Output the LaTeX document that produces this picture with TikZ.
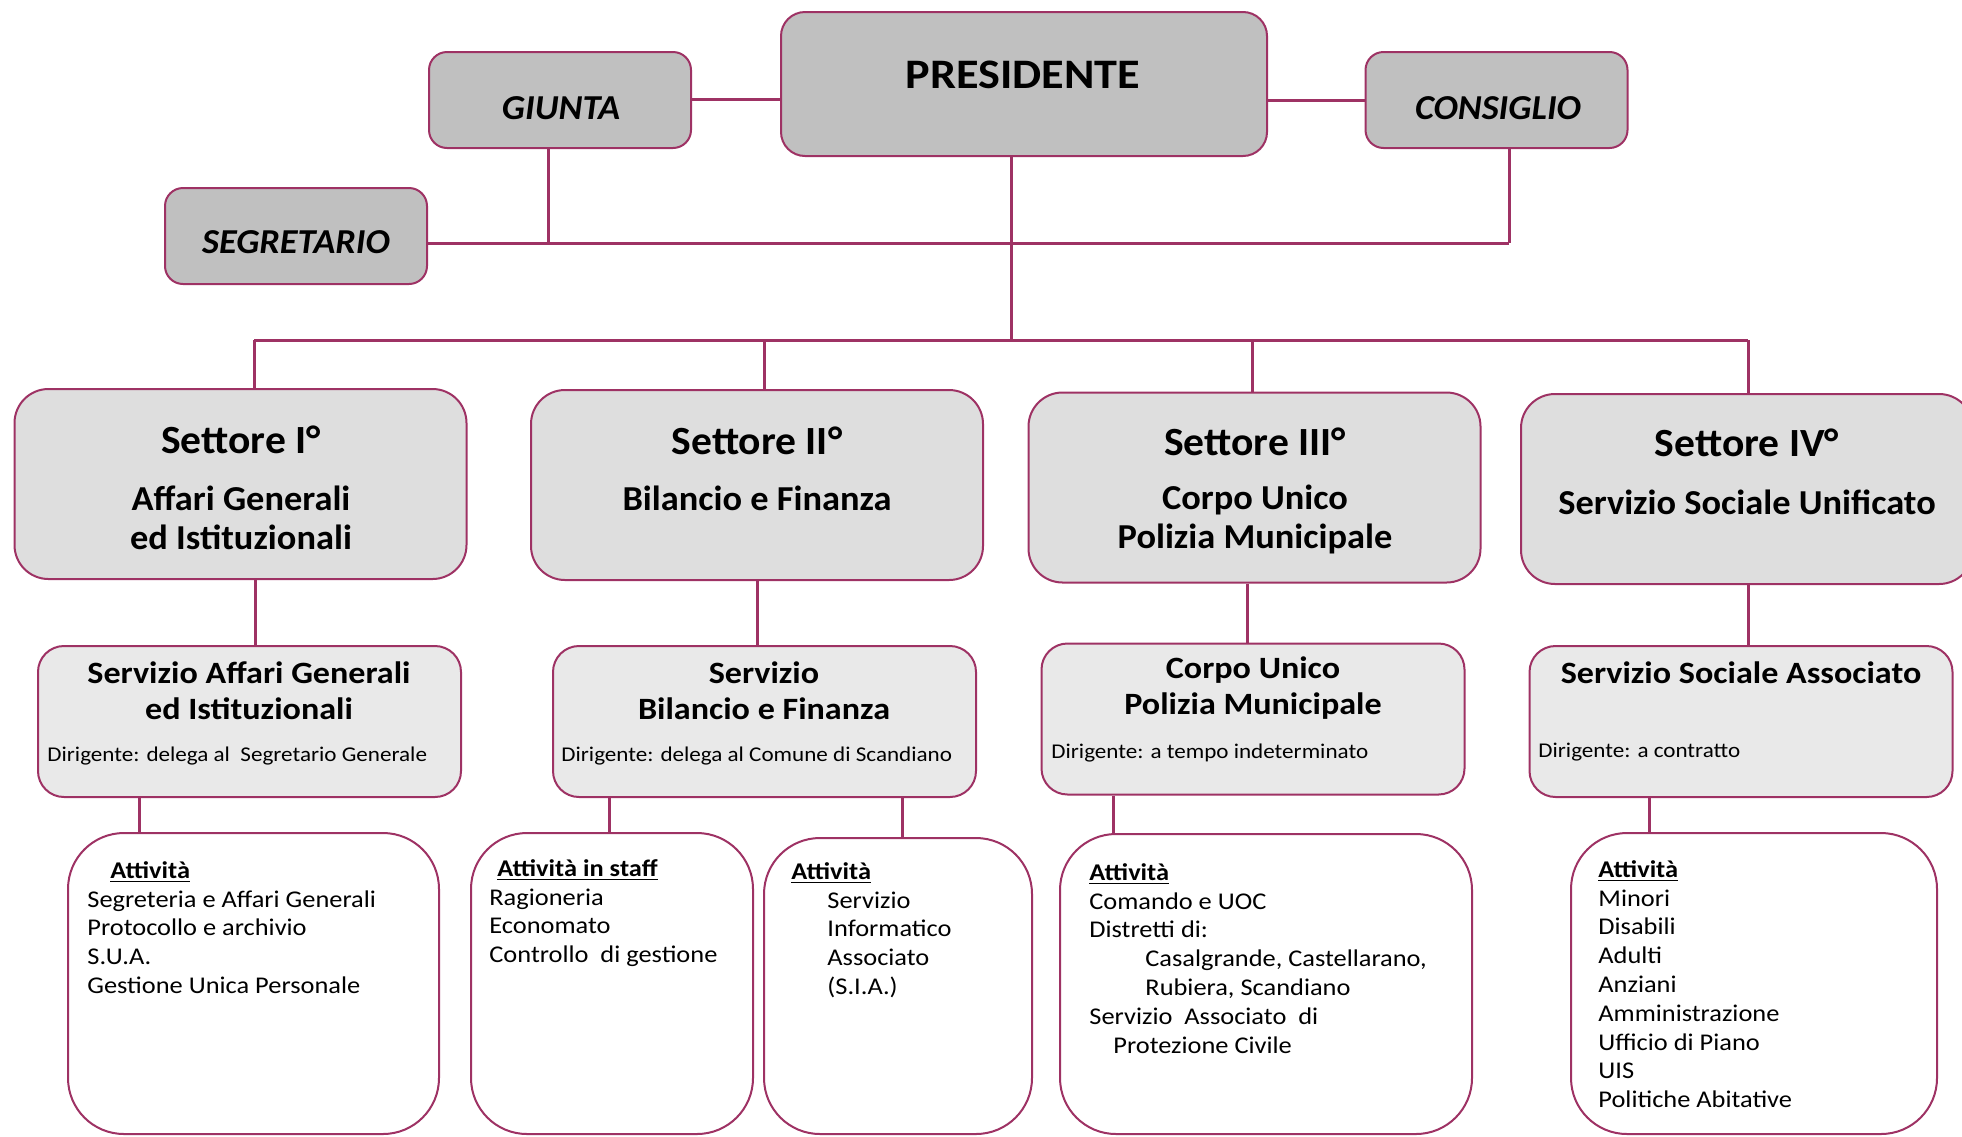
\documentclass[tikz,border=0pt]{standalone}
\usepackage{fontspec}
\setmainfont[FakeStretch=1.1]{Carlito}
\newfontfamily\stretto[FakeStretch=1.04]{Carlito}
\usepackage{tikz}
\usetikzlibrary{positioning}
\definecolor{viola}{RGB}{158,50,100}
\definecolor{grigio}{RGB}{192,192,192}
\definecolor{grigiochiaro}{RGB}{222,222,222}
\definecolor{grigiotenue}{RGB}{233,233,233}
\tikzset{
    % riquadri
    capobox/.style={draw=viola, line width=1pt, fill=grigio, rounded corners=9pt, inner sep=0pt,
        minimum width=131pt, minimum height=48pt},
    settorebox/.style={draw=viola, line width=1pt, fill=grigiochiaro, rounded corners=17pt, inner sep=0pt,
        minimum width=226pt, minimum height=95pt},
    serviziobox/.style={draw=viola, line width=1pt, fill=grigiotenue, rounded corners=13pt, inner sep=0pt,
        minimum width=211.5pt, minimum height=75.5pt},
    attivitabox/.style={draw=viola, line width=1pt, fill=white, rounded corners=28pt, inner sep=0pt,
        minimum height=150.5pt},
    linea/.style={viola, line width=1.5pt},
    % testi
    capotesto/.style={inner sep=0pt, font=\stretto\fontsize{17.5}{20}\selectfont\bfseries\itshape},
    settoretit/.style={inner sep=0pt, font=\stretto\fontsize{20}{24}\selectfont\bfseries},
    settoresub/.style={inner sep=0pt, align=center, font=\stretto\fontsize{17.5}{19.5}\selectfont\bfseries},
    serviziotit/.style={inner sep=0pt, align=center, font=\fontsize{15.5}{18}\selectfont\bfseries},
    dirigente/.style={inner sep=0pt, anchor=west, font=\fontsize{10.5}{12}\selectfont},
    elenco/.style={inner sep=0pt, anchor=north west, align=left, font=\fontsize{12}{14.4}\selectfont}
}

\begin{document}
\begin{tikzpicture}[x=0.5pt, y=-0.5pt]
    \useasboundingbox (0,0) rectangle (1962,1136);

    \node[capobox, minimum width=243pt, minimum height=72pt, rounded corners=12pt] (pres) at (1024,84) {};
    \node[inner sep=0pt, font=\fontsize{21}{24}\selectfont\bfseries] (pres-t) at (1023,75) {PRESIDENTE};
    \node[capobox] (giunta) at (560,100) {};
    \node[capotesto] (giunta-t) at (561,108) {GIUNTA};
    \node[capobox] (consiglio) at (1496.5,100) {};
    \node[capotesto] (consiglio-t) at (1498,108) {CONSIGLIO};
    \node[capobox] (segretario) at (296,236) {};
    \node[capotesto] (segretario-t) at (296,242) {SEGRETARIO};

    % settori
    \node[settorebox] (s1) at (240.5,484) {};
    \node[settorebox] (s2) at (757,485) {};
    \node[settorebox] (s3) at (1254.5,487.5) {};
    \node[settorebox] (s4) at (1747,489) {};
    \node[settoretit] (s1-t) at (241,440) {Settore I°};
    \node[settoretit] (s2-t) at (757,441) {Settore II°};
    \node[settoretit] (s3-t) at (1255,442) {Settore III°};
    \node[settoretit] (s4-t) at (1747,443) {Settore IV°};
    \node[settoresub] (s1-s) at (241,517.5) {Affari Generali\\ed Istituzionali};
    \node[settoresub] (s2-s) at (757,498) {Bilancio e Finanza};
    \node[settoresub] (s3-s) at (1255,519) {Corpo Unico\\Polizia Municipale};
    \node[settoresub] (s4-s) at (1747,502) {Servizio Sociale Unificato};

    % servizi
    \node[serviziobox] (v1) at (249.5,721.5) {};
    \node[serviziobox] (v2) at (764.5,721.5) {};
    \node[serviziobox] (v3) at (1253,719) {};
    \node[serviziobox] (v4) at (1741,721.5) {};
    \node[serviziotit] (v1-t) at (249,691) {Servizio Affari Generali\\ed Istituzionali};
    \node[serviziotit] (v2-t) at (764,691) {Servizio\\Bilancio e Finanza};
    \node[serviziotit] (v3-t) at (1253,688.5) {Corpo Unico\\Polizia Municipale};
    \node[serviziotit] (v4-t) at (1741,673) {Servizio Sociale Associato};
    \node[dirigente] (v1-d) at (47,756) {Dirigente: delega al\ \ Segretario Generale};
    \node[dirigente] (v2-d) at (561,756) {Dirigente: delega al Comune di Scandiano};
    \node[dirigente] (v3-d) at (1051,753) {Dirigente: a tempo indeterminato};
    \node[dirigente] (v4-d) at (1538,752) {Dirigente: a contratto};

    % attivita
    \node[attivitabox, minimum width=185.5pt] (a1) at (253.5,983.5) {};
    \node[attivitabox, minimum width=141pt] (a2) at (612,983.5) {};
    \node[attivitabox, minimum width=134pt, minimum height=148pt] (a3) at (898,986) {};
    \node[attivitabox, minimum width=206pt, minimum height=150pt] (a4) at (1266,984) {};
    \node[attivitabox, minimum width=183pt] (a5) at (1754,983.5) {};

    \node[elenco] (a1-t) at (87,861) {\hspace*{11.5pt}\underline{\textbf{Attività}}\\
        Segreteria e Affari Generali\\Protocollo e archivio\\S.U.A.\\Gestione Unica Personale};
    \node[elenco] (a2-t) at (489,859) {\hspace*{4pt}\underline{\textbf{Attività in staff}}\\
        Ragioneria\\Economato\\Controllo\ \ di gestione};
    \node[elenco] (a3-t) at (791,862) {\underline{\textbf{Attività}}\\
        \hspace*{18pt}Servizio\\\hspace*{18pt}Informatico\\\hspace*{18pt}Associato\\\hspace*{18pt}(S.I.A.)};
    \node[elenco] (a4-t) at (1089,863) {\underline{\textbf{Attività}}\\
        Comando e UOC\\Distretti di:\\\hspace*{28pt}Casalgrande, Castellarano,\\\hspace*{28pt}Rubiera, Scandiano\\
        Servizio\ \ Associato\ \ di\\\hspace*{12pt}Protezione Civile};
    \node[elenco] (a5-t) at (1598,860) {\underline{\textbf{Attività}}\\
        Minori\\Disabili\\Adulti\\Anziani\\Amministrazione\\Ufficio di Piano\\UIS\\Politiche Abitative};

    % collegamenti
    \path (548,243) coordinate (jg) (1509,243) coordinate (jc)
    (1011,340) coordinate (k0) (254,340) coordinate (k1) (764,340) coordinate (k2)
    (1252,340) coordinate (k3) (1748,340) coordinate (k4);
    \draw[linea] (giunta.east |- 0,99) -- (pres.west |- 0,99);
    \draw[linea] (pres.east |- 0,100) -- (consiglio.west |- 0,100);
    \draw[linea] (giunta.south -| jg) -- (jg);
    \draw[linea] (consiglio.south -| jc) -- (jc);
    \draw[linea] (segretario.east |- jg) -- (jc);
    \draw[linea] (pres.south -| k0) -- (k0);
    \draw[linea] (k1) -- (k4);
    \foreach \i in {1,...,4}
        \draw[linea] (k\i) -- (s\i.north -| k\i);
    \foreach \a/\b/\x in {s1/v1/255, s2/v2/757, s3/v3/1247, s4/v4/1748,
        v1/a1/139, v2/a2/609, v2/a3/902, v3/a4/1113, v4/a5/1649}
        \draw[linea] (\a.south -| \x,0) -- (\b.north -| \x,0);
\end{tikzpicture}
\end{document}
